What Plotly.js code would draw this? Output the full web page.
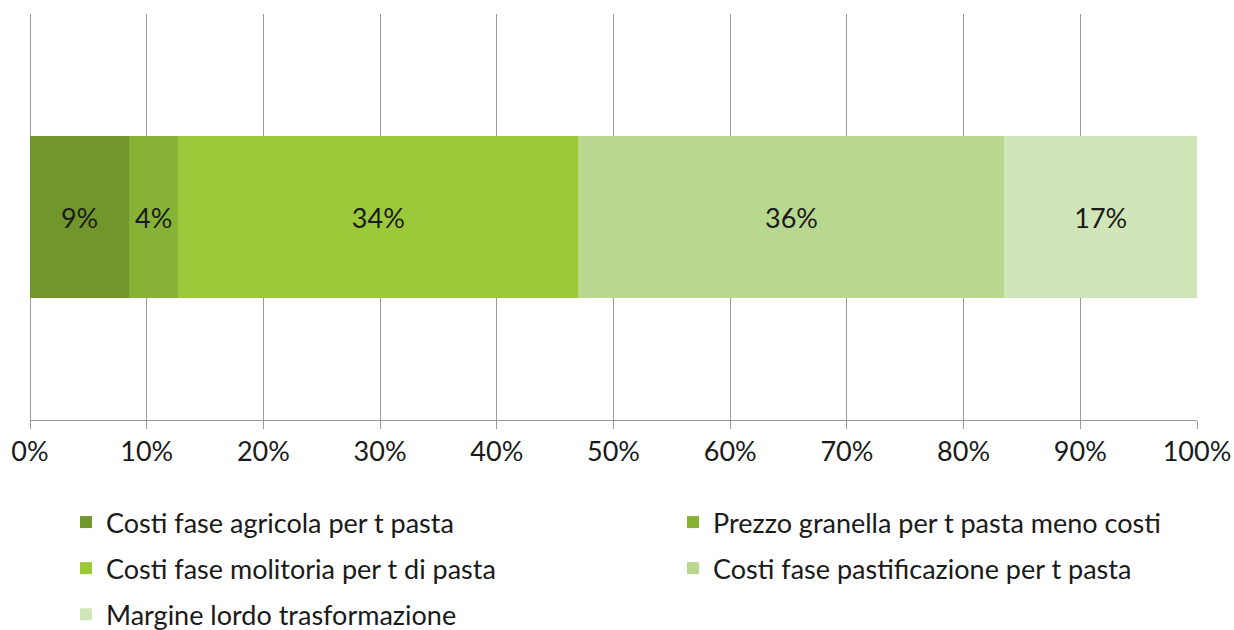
<!DOCTYPE html>
<html>
<head>
<meta charset="utf-8">
<script src="https://cdn.plot.ly/plotly-3.0.1.min.js"></script>
<style>html,body{margin:0;padding:0;background:#fff;}#chart{width:1234px;height:630px;}</style>
</head>
<body>
<div id="chart"></div>
<script>
const seriesNames = [
  "Costi fase agricola per t pasta",
  "Prezzo granella per t pasta meno costi",
  "Costi fase molitoria per t di pasta",
  "Costi fase pastificazione per t pasta",
  "Margine lordo trasformazione"
];
const seriesValues = [0.085, 0.042, 0.343, 0.365, 0.165];
const seriesLabels = ["9%", "4%", "34%", "36%", "17%"];
const seriesColors = ["#71962B", "#86B335", "#9BC93A", "#B8D78F", "#D1E6B8"];
const legendColumn = ["legend", "legend2", "legend", "legend2", "legend"];
const category = ["Pasta"];
const tickVals = [0, 0.1, 0.2, 0.3, 0.4, 0.5, 0.6, 0.7, 0.8, 0.9, 1.0];
const tickText = ["0%", "10%", "20%", "30%", "40%", "50%", "60%", "70%", "80%", "90%", "100%"];

const font = "Lato, 'Open Sans', sans-serif";
const fs = 27;
const traces = seriesNames.map((n, i) => ({
  type: "bar",
  orientation: "h",
  name: n,
  legend: legendColumn[i],
  legendgroup: "g" + i,
  y: category,
  x: [seriesValues[i]],
  text: [seriesLabels[i]],
  textposition: "inside",
  insidetextanchor: "middle",
  constraintext: "none",
  textfont: {family: font, size: fs, color: "#1a1a1a"},
  marker: {color: seriesColors[i], line: {width: 0}},
  hoverinfo: "skip"
}));

const legendBase = {
  orientation: "v",
  traceorder: "grouped",
  tracegroupgap: 8,
  xref: "container", yref: "container",
  xanchor: "left", yanchor: "top",
  y: 0.2095,
  bgcolor: "rgba(0,0,0,0)",
  font: {family: font, size: fs, color: "#1a1a1a"},
  itemclick: false, itemdoubleclick: false
};

const layout = {
  width: 1234, height: 630,
  barmode: "stack",
  bargap: 0.6,
  margin: {l: 30, r: 37, t: 14, b: 210, autoexpand: false},
  paper_bgcolor: "#fff", plot_bgcolor: "#fff",
  font: {family: font, size: fs, color: "#1a1a1a"},
  showlegend: true,
  xaxis: {
    range: [0, 1],
    automargin: false,
    tickvals: tickVals, ticktext: tickText,
    showgrid: true, gridcolor: "#9a9a9a", gridwidth: 1,
    zeroline: true, zerolinecolor: "#9a9a9a", zerolinewidth: 1,
    showline: true, linecolor: "#9a9a9a", linewidth: 1,
    ticks: "outside", ticklen: 8, tickcolor: "#9a9a9a",
    tickfont: {family: font, size: fs, color: "#1a1a1a"},
    fixedrange: true
  },
  yaxis: {
    automargin: false,
    showticklabels: false, showgrid: false, zeroline: false, showline: false,
    fixedrange: true
  },
  legend: Object.assign({}, legendBase, {x: 66 / 1234}),
  legend2: Object.assign({}, legendBase, {x: 673 / 1234})
};

Plotly.newPlot("chart", traces, layout, {displayModeBar: false, staticPlot: true});
</script>
</body>
</html>
